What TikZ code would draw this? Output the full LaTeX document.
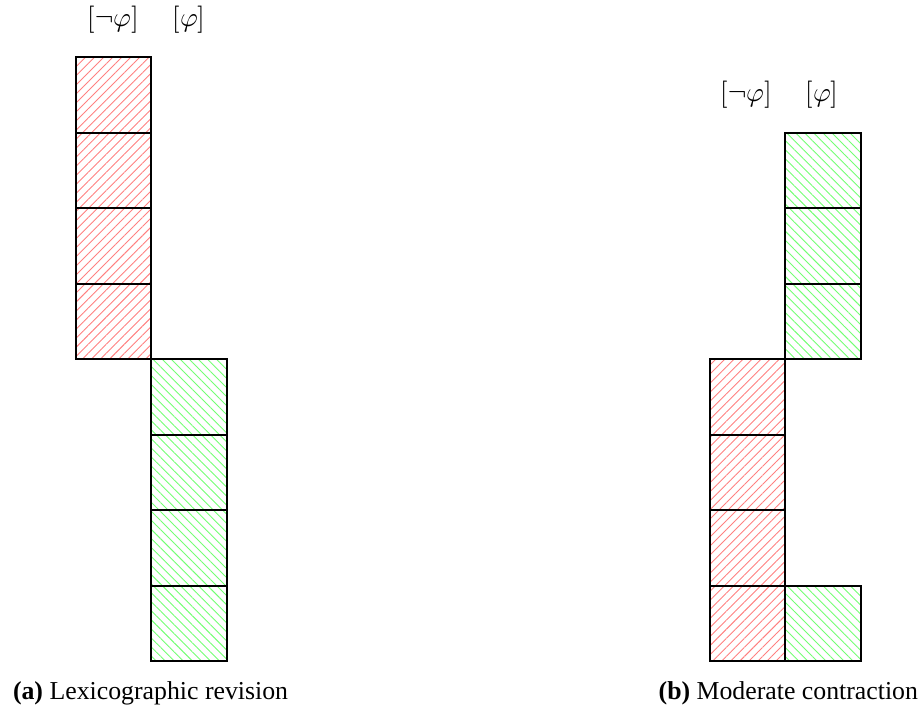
\documentclass[tikz,border=0pt]{standalone}
\usepackage{fontspec}
\setmainfont{Liberation Serif}
\usepackage{unicode-math}
\setmathfont{Latin Modern Math}
\usetikzlibrary{patterns.meta}

\tikzset{every picture/.style={line width=1pt}}
\tikzset{
  negcell/.style={draw=black,line width=1pt,pattern={Lines[angle=45,distance=3.2pt,line width=0.45pt]},pattern color=red!50},
  poscell/.style={draw=black,line width=1pt,pattern={Lines[angle=-45,distance=3.2pt,line width=0.45pt]},pattern color=green!55},
  worldlabel/.style={font=\fontsize{13.6}{16}\selectfont},
  captiontext/.style={font=\fontsize{12.9}{15}\selectfont,inner sep=0pt}
}

\begin{document}
\begin{tikzpicture}[x=0.5pt,y=0.5pt,yscale=-1,xscale=1]
		\useasboundingbox (0,0) rectangle (922,713); %set diagram size to 922 x 713

		%Shape: Rectangle (a) not phi
		\draw [negcell] (76,57) -- (151,57) -- (151,132.5) -- (76,132.5) -- cycle ;
		%Shape: Rectangle
		\draw [negcell] (76,132.5) -- (151,132.5) -- (151,208) -- (76,208) -- cycle ;
		%Shape: Rectangle
		\draw [negcell] (76,208) -- (151,208) -- (151,283.5) -- (76,283.5) -- cycle ;
		%Shape: Rectangle
		\draw [negcell] (76,283.5) -- (151,283.5) -- (151,359) -- (76,359) -- cycle ;
		%Shape: Rectangle (a) phi
		\draw [poscell] (151,359) -- (226.5,359) -- (226.5,434.5) -- (151,434.5) -- cycle ;
		%Shape: Rectangle
		\draw [poscell] (151,434.5) -- (226.5,434.5) -- (226.5,510) -- (151,510) -- cycle ;
		%Shape: Rectangle
		\draw [poscell] (151,510) -- (226.5,510) -- (226.5,585.5) -- (151,585.5) -- cycle ;
		%Shape: Rectangle
		\draw [poscell] (151,585.5) -- (226.5,585.5) -- (226.5,661) -- (151,661) -- cycle ;

		%Shape: Rectangle (b) phi
		\draw [poscell] (785,132.5) -- (860.5,132.5) -- (860.5,208) -- (785,208) -- cycle ;
		%Shape: Rectangle
		\draw [poscell] (785,208) -- (860.5,208) -- (860.5,283.5) -- (785,283.5) -- cycle ;
		%Shape: Rectangle
		\draw [poscell] (785,283.5) -- (860.5,283.5) -- (860.5,359) -- (785,359) -- cycle ;
		%Shape: Rectangle (b) not phi
		\draw [negcell] (709.5,359) -- (785,359) -- (785,434.5) -- (709.5,434.5) -- cycle ;
		%Shape: Rectangle
		\draw [negcell] (709.5,434.5) -- (785,434.5) -- (785,510) -- (709.5,510) -- cycle ;
		%Shape: Rectangle
		\draw [negcell] (709.5,510) -- (785,510) -- (785,585.5) -- (709.5,585.5) -- cycle ;
		%Shape: Rectangle
		\draw [negcell] (709.5,585.5) -- (785,585.5) -- (785,661) -- (709.5,661) -- cycle ;
		%Shape: Rectangle
		\draw [poscell] (785,585.5) -- (860.5,585.5) -- (860.5,661) -- (785,661) -- cycle ;

		% Text Node
		\draw (113,20) node [worldlabel] (lexneg) {$[\neg\varphi]$};
		% Text Node
		\draw (189,20) node [worldlabel] (lexpos) {$[\varphi]$};
		% Text Node
		\draw (746,95) node [worldlabel] (modneg) {$[\neg\varphi]$};
		% Text Node
		\draw (822,95) node [worldlabel] (modpos) {$[\varphi]$};
		% Text Node
		\draw (12,699) node [captiontext,anchor=base west] (lexcap) {\textbf{(a)} Lexicographic revision};
		% Text Node
		\draw (919,699) node [captiontext,anchor=base east] (modcap) {\textbf{(b)} Moderate contraction};

\end{tikzpicture}
\end{document}
